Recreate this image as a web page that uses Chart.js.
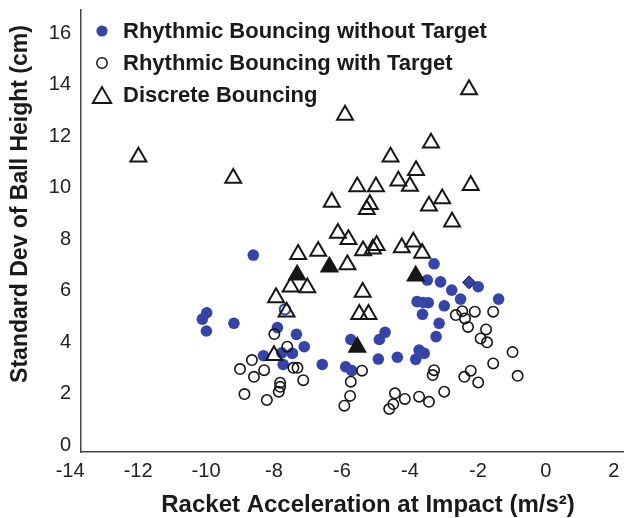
<!DOCTYPE html>
<html>
<head>
<meta charset="utf-8">
<script src="https://cdn.jsdelivr.net/npm/chart.js@4.4.1/dist/chart.umd.min.js"></script>
<style>
  html, body { margin: 0; padding: 0; background: #fff; }
  #wrap { width: 624px; height: 518px; }
</style>
</head>
<body>
<div id="wrap"><canvas id="myChart" width="624" height="518"></canvas></div>
<script>
/* data */
var xTicks = [-14, -12, -10, -8, -6, -4, -2, 0, 2];
var yTicks = [0, 2, 4, 6, 8, 10, 12, 14, 16];

var xTitle = 'Racket Acceleration at Impact (m/s²)';
var yTitle = 'Standard Dev of Ball Height (cm)';
var seriesNames = ['Rhythmic Bouncing without Target', 'Rhythmic Bouncing with Target', 'Discrete Bouncing'];

// Rhythmic Bouncing without Target (filled blue)
var noTargetX = [-9.98, -10.11, -9.99, -9.18, -8.61, -7.90, -7.34, -7.11, -8.31, -7.77, -7.46, -7.73,
                 -6.58, -5.89, -5.71, -5.74, -4.90, -4.93, -3.29, -3.49, -3.10, -2.77, -2.51, -1.99,
                 -1.39, -3.79, -3.61, -3.46, -3.63, -2.99, -3.14, -3.23, -4.73, -4.37, -3.83, -3.73, -3.58];
var noTargetY = [5.14, 4.89, 4.43, 4.73, 7.38, 4.56, 4.30, 3.82, 3.47, 3.58, 3.56, 3.13,
                 3.13, 3.04, 2.89, 4.10, 4.10, 3.34, 7.04, 6.41, 6.34, 6.02, 5.67, 6.15,
                 5.67, 5.57, 5.54, 5.53, 5.08, 5.41, 4.73, 4.21, 4.38, 3.41, 3.33, 3.69, 3.56];

// Rhythmic Bouncing with Target (open circles)
var targetX = [-7.99, -7.61, -8.65, -9.00, -8.29, -8.59, -7.43, -7.31, -7.14, -7.82, -7.82, -7.86,
               -8.87, -8.21, -5.41, -5.74, -5.76, -5.93, -2.65, -2.46, -2.38, -2.09, -2.29, -1.55,
               -1.76, -1.92, -1.73, -0.98, -1.55, -0.83, -2.21, -2.40, -1.99, -3.29, -3.33, -2.99,
               -4.44, -4.15, -3.73, -3.44, -4.49, -4.61];
var targetY = [4.31, 3.82, 3.30, 2.95, 2.91, 2.65, 3.00, 3.00, 2.52, 2.42, 2.26, 2.07,
               1.98, 1.75, 2.89, 2.46, 1.91, 1.53, 5.05, 5.20, 4.92, 5.18, 4.59, 5.18,
               4.49, 4.14, 3.99, 3.61, 3.17, 2.69, 2.89, 2.65, 2.43, 2.91, 2.72, 2.07,
               2.01, 1.79, 1.88, 1.68, 1.59, 1.40];

// Discrete Bouncing (open triangles)
var discreteX = [-2.26, -5.91, -11.99, -9.20, -3.38, -4.57, -3.82, -4.34, -4.00, -5.55, -5.00, -2.21,
                 -6.30, -5.18, -5.27, -3.44, -3.05, -2.76, -6.12, -5.81, -7.29, -6.70, -5.38, -5.09,
                 -4.98, -4.24, -3.90, -3.64, -5.84, -7.51, -7.02, -7.94, -5.39, -7.63, -5.49, -5.22, -8.00];
var discreteY = [13.81, 12.82, 11.19, 10.37, 11.74, 11.19, 10.67, 10.26, 10.06, 10.04, 10.04, 10.09,
                 9.44, 9.35, 9.15, 9.29, 9.57, 8.67, 8.23, 7.99, 7.41, 7.53, 7.55, 7.62,
                 7.76, 7.67, 7.89, 7.45, 7.01, 6.14, 6.11, 5.73, 5.94, 5.17, 5.08, 5.08, 3.48];

// highlighted markers (filled triangles, blue diamond, blue ring)
var filledTriX = [-6.37, -7.32, -3.83, -5.55];
var filledTriY = [6.92, 6.61, 6.57, 3.80];
var diamondX = [-2.26];
var diamondY = [6.32];
var ringX = [-7.68];
var ringY = [5.27];

var blue = '#3644a8';
var ink = '#161616';
var fam = '"Liberation Sans", Arial, sans-serif';

function pts(xs, ys) {
    return xs.map(function(x, i) { return {x: x, y: ys[i]}; });
}

/* legend inside the plot (top left) and the two axis titles */
var annotate = {
    id: 'annotate',
    afterDraw: function(chart) {
        var ctx = chart.ctx;
        var a = chart.chartArea;
        var mx = a.left + 21, tx = a.left + 42;
        ctx.save();
        ctx.font = 'bold 22px ' + fam;
        ctx.textBaseline = 'middle';
        ctx.textAlign = 'left';
        for (var i = 0; i < seriesNames.length; i++) {
            var y = a.top + 21 + i * 32;
            ctx.beginPath();
            if (i === 0) {
                ctx.arc(mx, y, 5.6, 0, Math.PI * 2);
                ctx.fillStyle = blue;
                ctx.fill();
            } else if (i === 1) {
                ctx.arc(mx, y, 5.2, 0, Math.PI * 2);
                ctx.lineWidth = 1.5;
                ctx.strokeStyle = ink;
                ctx.stroke();
            } else {
                var r = 10.5;
                ctx.moveTo(mx, y - r * 0.75);
                ctx.lineTo(mx + r * 0.866, y + r * 0.75);
                ctx.lineTo(mx - r * 0.866, y + r * 0.75);
                ctx.closePath();
                ctx.lineWidth = 2;
                ctx.strokeStyle = ink;
                ctx.stroke();
            }
            ctx.fillStyle = '#1a1a1a';
            ctx.fillText(seriesNames[i], tx, y + 1);
        }

        // axis titles
        ctx.fillStyle = '#1a1a1a';
        ctx.textAlign = 'center';
        ctx.font = 'bold 24px ' + fam;
        ctx.fillText(xTitle, 368, 505);
        ctx.font = 'bold 23px ' + fam;
        ctx.translate(21, 204);
        ctx.rotate(-Math.PI / 2);
        ctx.fillText(yTitle, 0, 0);
        ctx.restore();
    }
};

var tickFont = {family: fam, size: 20};

var ctx = document.getElementById('myChart').getContext('2d');
var myChart = new Chart(ctx, {
    type: 'scatter',
    data: {
        datasets: [{
            label: 'Discrete Bouncing (highlighted)',
            data: pts(filledTriX, filledTriY),
            pointStyle: 'triangle',
            pointRadius: 9.2,
            backgroundColor: ink,
            borderColor: ink,
            borderWidth: 2
        }, {
            label: seriesNames[2],
            data: pts(discreteX, discreteY),
            pointStyle: 'triangle',
            pointRadius: 9.2,
            backgroundColor: 'rgba(0,0,0,0)',
            borderColor: ink,
            borderWidth: 2
        }, {
            label: 'diamond',
            data: pts(diamondX, diamondY),
            pointStyle: 'rectRot',
            pointRadius: 6.5,
            backgroundColor: blue,
            borderColor: ink,
            borderWidth: 1
        }, {
            label: 'ring',
            data: pts(ringX, ringY),
            pointStyle: 'circle',
            pointRadius: 5.2,
            backgroundColor: 'rgba(0,0,0,0)',
            borderColor: blue,
            borderWidth: 2
        }, {
            label: seriesNames[1],
            data: pts(targetX, targetY),
            pointStyle: 'circle',
            pointRadius: 5.2,
            backgroundColor: 'rgba(0,0,0,0)',
            borderColor: ink,
            borderWidth: 1.6
        }, {
            label: seriesNames[0],
            data: pts(noTargetX, noTargetY),
            pointStyle: 'circle',
            pointRadius: 5.8,
            backgroundColor: blue,
            borderWidth: 0
        }]
    },
    options: {
        responsive: false,
        animation: false,
        layout: {
            autoPadding: false,
            padding: {left: 6, right: 0, top: 10, bottom: 0}
        },
        plugins: {
            legend: {display: false},
            tooltip: {enabled: false}
        },
        scales: {
            x: {
                type: 'linear',
                min: -13.68,
                max: 2.3,
                afterBuildTicks: function(s) {
                    s.ticks = xTicks.map(function(v) { return {value: v}; });
                },
                afterFit: function(s) {
                    s.height = 66;
                    s.paddingLeft = 0;
                    s.paddingRight = 0;
                },
                grid: {display: false, drawTicks: false},
                border: {display: true, color: '#444', width: 1.5},
                ticks: {
                    autoSkip: false,
                    maxRotation: 0,
                    padding: 7,
                    color: '#222',
                    font: tickFont,
                    callback: function(v) { return String(v); }
                }
            },
            y: {
                type: 'linear',
                min: -0.27,
                max: 16.9,
                afterBuildTicks: function(s) {
                    s.ticks = yTicks.map(function(v) { return {value: v}; });
                },
                afterFit: function(s) {
                    s.width = 75;
                    s.paddingTop = 0;
                    s.paddingBottom = 0;
                },
                grid: {display: false, drawTicks: false},
                border: {display: true, color: '#444', width: 1.5},
                ticks: {
                    autoSkip: false,
                    padding: 10,
                    color: '#222',
                    font: tickFont,
                    callback: function(v) { return String(v); }
                }
            }
        }
    },
    plugins: [annotate]
});
</script>
</body>
</html>
